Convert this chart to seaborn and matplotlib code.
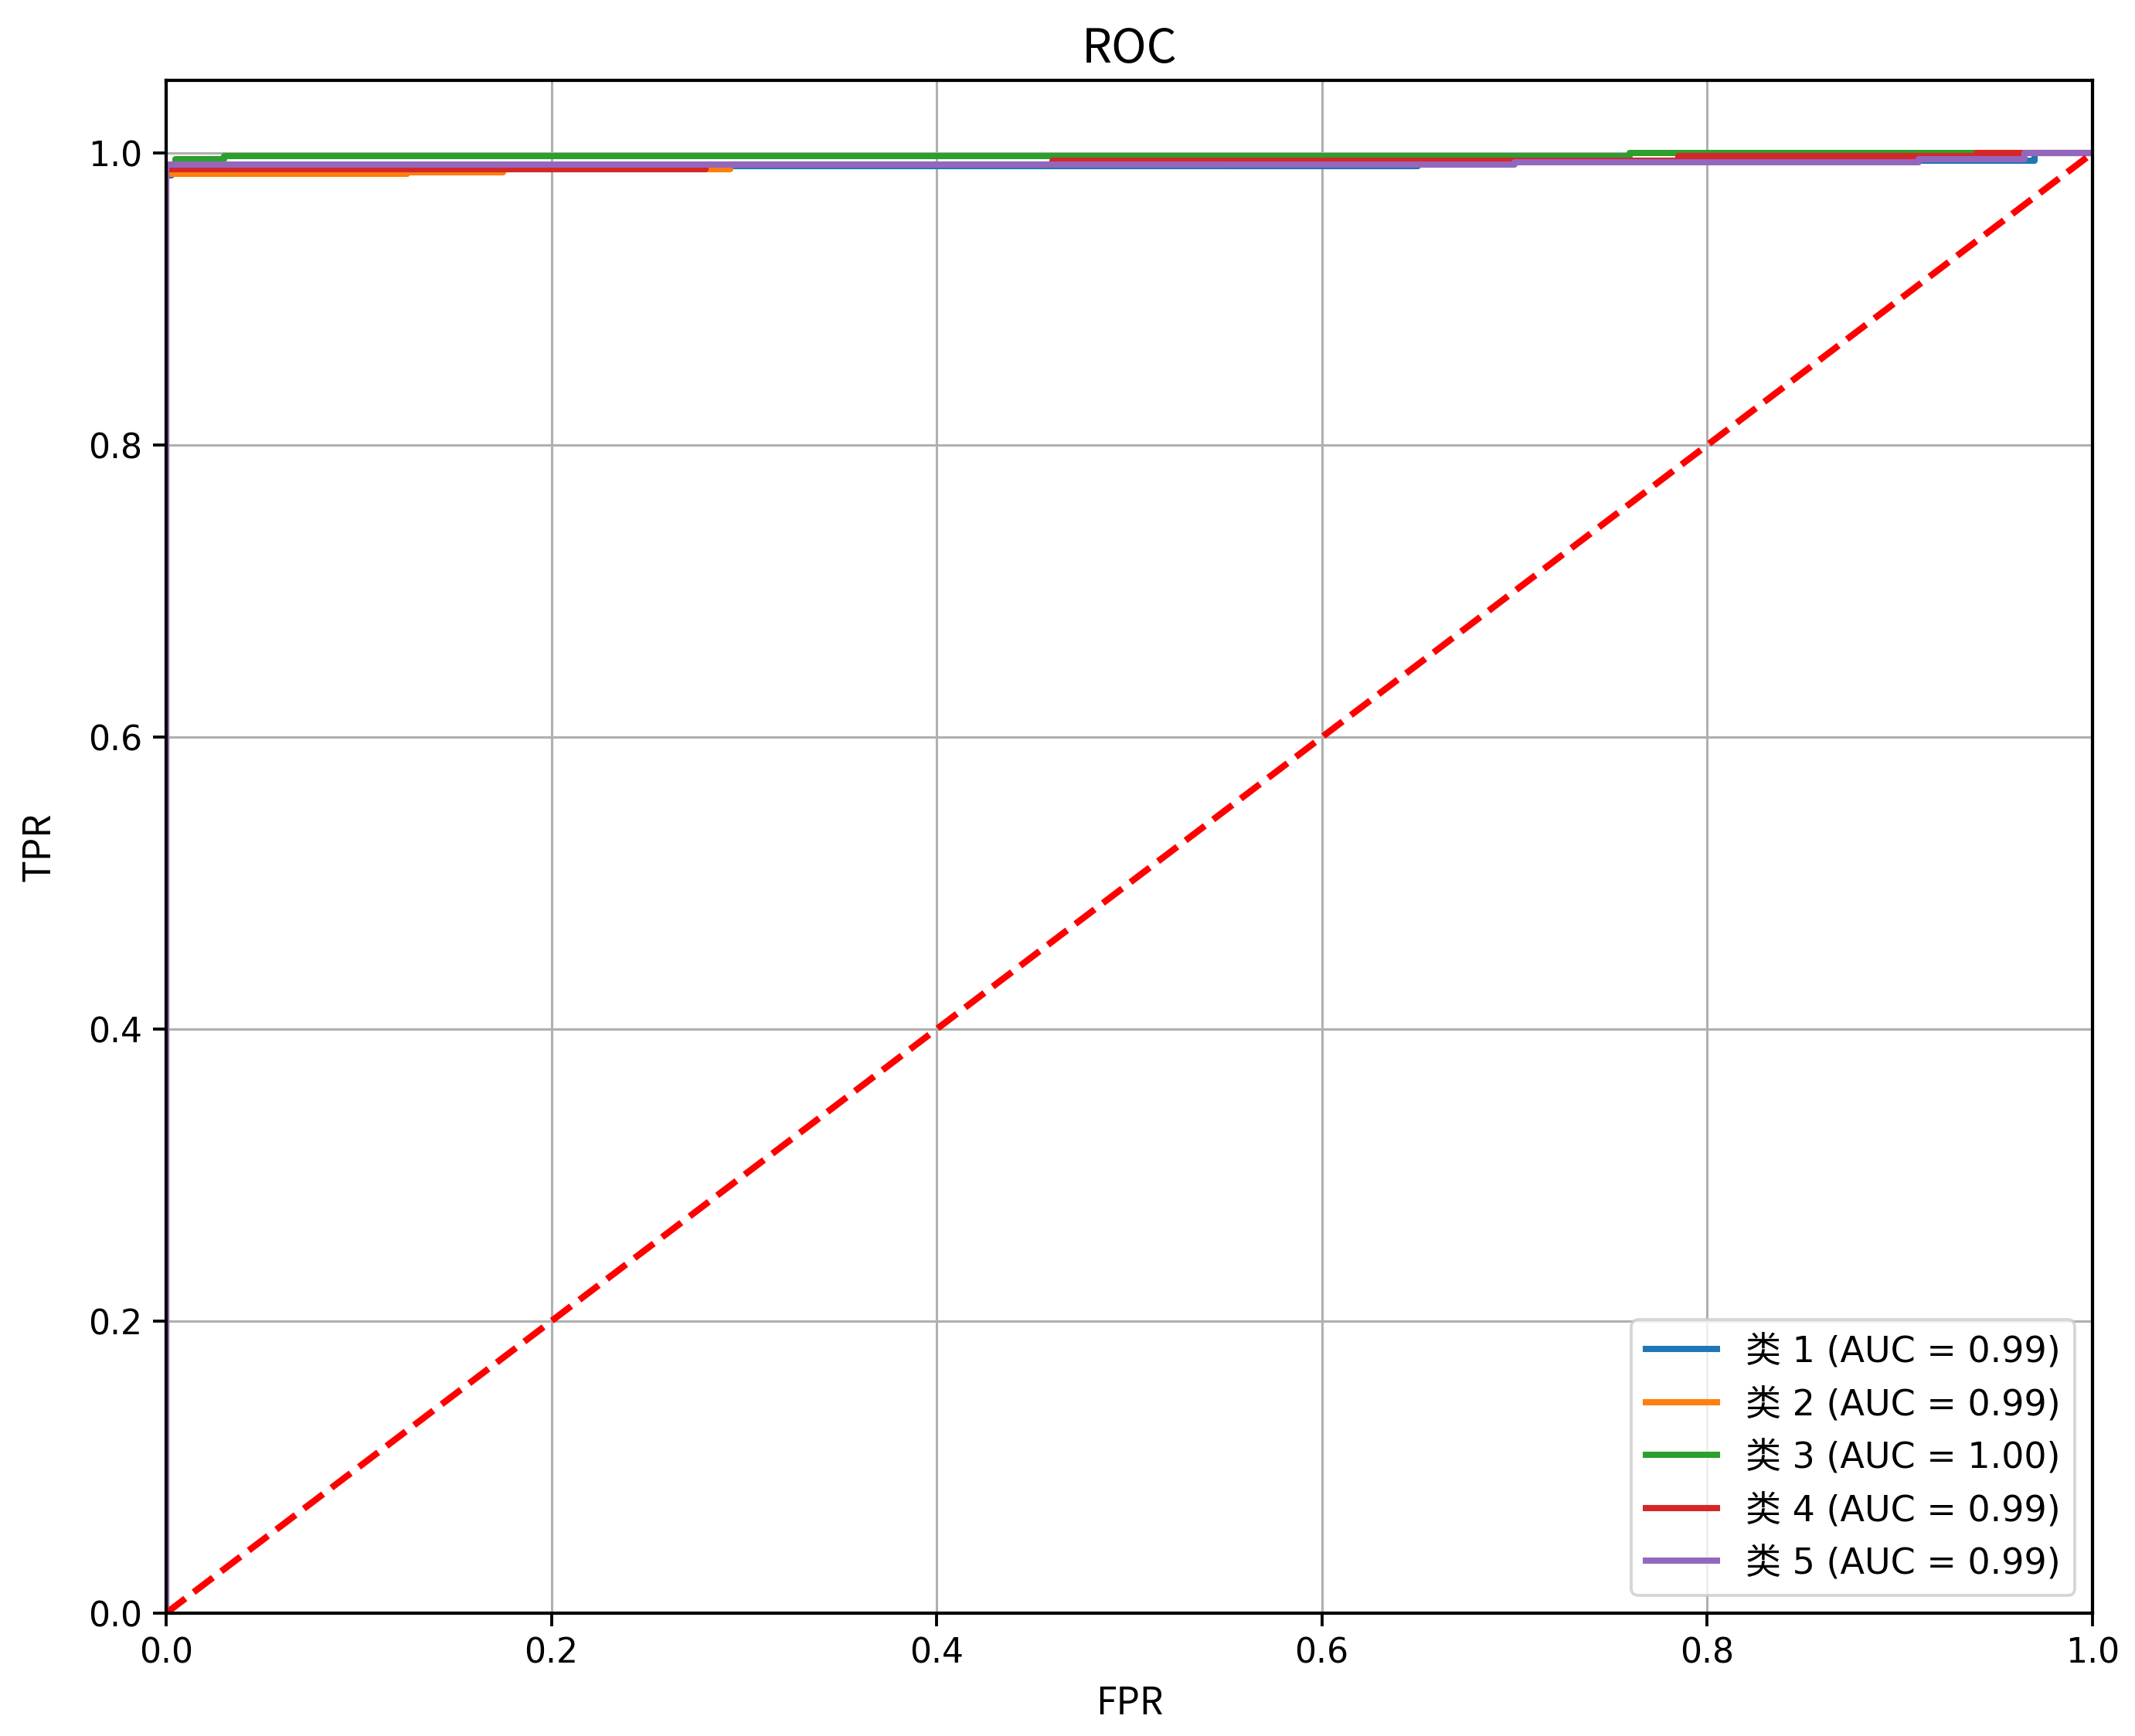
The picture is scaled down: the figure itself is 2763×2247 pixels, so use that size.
import numpy as np
import pandas as pd
import matplotlib
matplotlib.use("Agg")
import matplotlib.pyplot as plt
import seaborn as sns

# class names and AUC values shown in the legend
classes = ["类 1", "类 2", "类 3", "类 4", "类 5"]
aucs = [0.99, 0.99, 1.00, 0.99, 0.99]

# ROC step curves (fpr / tpr per class)
fpr_1 = [0.0, 0.0, 0.003, 0.003, 0.65, 0.65, 0.97, 0.97, 1.0]
tpr_1 = [0.0, 0.985, 0.985, 0.991, 0.991, 0.995, 0.995, 1.0, 1.0]

fpr_2 = [0.0, 0.0, 0.125, 0.125, 0.175, 0.175, 0.293, 0.293, 0.55, 0.55, 0.80, 0.80, 1.0]
tpr_2 = [0.0, 0.986, 0.986, 0.987, 0.987, 0.989, 0.989, 0.992, 0.992, 0.995, 0.995, 1.0, 1.0]

fpr_3 = [0.0, 0.0, 0.005, 0.005, 0.03, 0.03, 0.76, 0.76, 1.0]
tpr_3 = [0.0, 0.99, 0.99, 0.996, 0.996, 0.998, 0.998, 1.0, 1.0]

fpr_4 = [0.0, 0.0, 0.28, 0.28, 0.46, 0.46, 0.785, 0.785, 0.94, 0.94, 1.0]
tpr_4 = [0.0, 0.989, 0.989, 0.992, 0.992, 0.995, 0.995, 0.998, 0.998, 1.0, 1.0]

fpr_5 = [0.0, 0.0, 0.70, 0.70, 0.91, 0.91, 0.965, 0.965, 1.0]
tpr_5 = [0.0, 0.992, 0.992, 0.994, 0.994, 0.996, 0.996, 1.0, 1.0]

fprs = [fpr_1, fpr_2, fpr_3, fpr_4, fpr_5]
tprs = [tpr_1, tpr_2, tpr_3, tpr_4, tpr_5]

chance = [0.0, 1.0]
ticks = [0.0, 0.2, 0.4, 0.6, 0.8, 1.0]

cjk = ['Noto Sans CJK SC', 'DejaVu Sans']
mixed = ['DejaVu Sans', 'Noto Sans CJK SC']

fig, ax = plt.subplots(figsize=(10, 8.133), dpi=276.3)
fig.subplots_adjust(left=0.0778, right=0.980, top=0.9537, bottom=0.0708)

colors = sns.color_palette("tab10", 5)
for i in range(5):
    df = pd.DataFrame({"fpr": fprs[i], "tpr": tprs[i]})
    sns.lineplot(data=df, x="fpr", y="tpr", estimator=None, sort=False,
                 color=colors[i], lw=2.1,
                 label=f"{classes[i]} (AUC = {aucs[i]:.2f})", ax=ax)

sns.lineplot(x=chance, y=chance, color="red", linestyle="--", lw=2.2,
             estimator=None, sort=False, ax=ax)

ax.set_xlim(0, 1)
ax.set_ylim(0, 1.05)
ax.set_xticks(ticks)
ax.set_yticks(ticks)
ax.tick_params(labelsize=11.5, length=4.5, width=1)
for s in ax.spines.values():
    s.set_linewidth(1.1)
ax.grid(True)
ax.set_xlabel("FPR", family=cjk, fontsize=12.5, labelpad=5)
ax.set_ylabel("TPR", family=cjk, fontsize=12.5, labelpad=10)
ax.set_title("ROC", family=cjk, fontsize=16)

leg = ax.legend(loc="lower right", prop={"family": mixed, "size": 12})

fig.savefig("out.png", dpi=276.3)
